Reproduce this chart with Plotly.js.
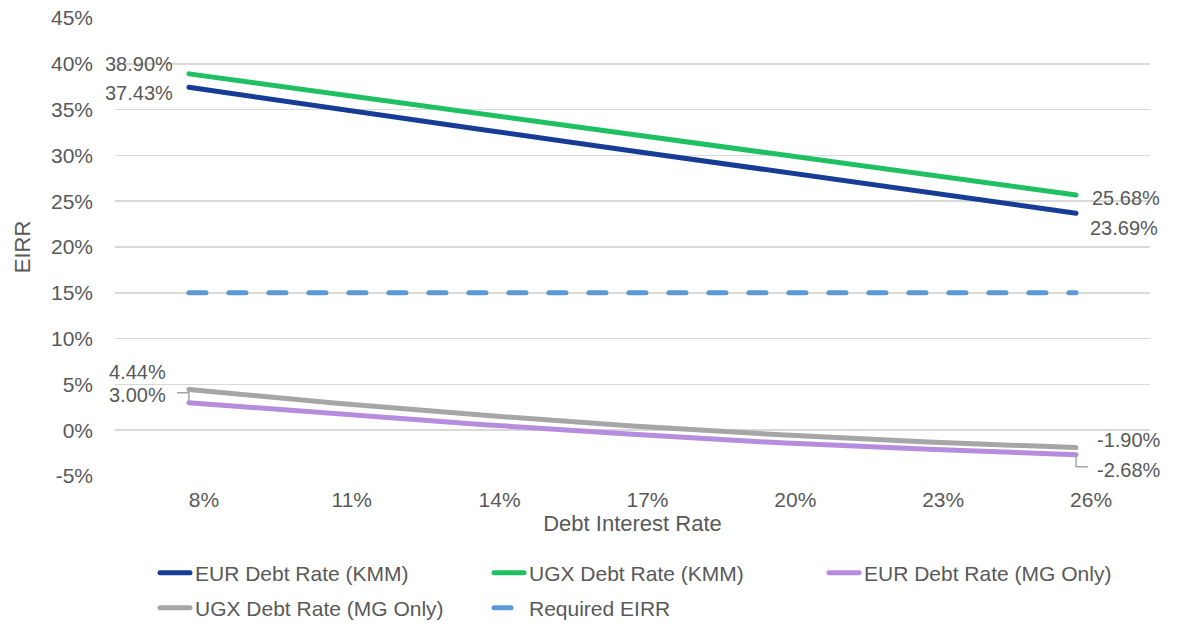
<!DOCTYPE html>
<html>
<head>
<meta charset="utf-8">
<script src="https://cdn.plot.ly/plotly-3.0.1.min.js"></script>
<style>
  html, body { margin: 0; padding: 0; background: #ffffff; }
  #chart { width: 1179px; height: 626px; }
  /* rounded line ends, as on the series and legend swatches */
  #chart path.js-line { stroke-linecap: round; }
</style>
</head>
<body>
<div id="chart"></div>
<script>
// Debt interest rate scenarios (%)
const debtRates = [8, 11, 14, 17, 20, 23, 26];
const debtRateLabels = ['8%', '11%', '14%', '17%', '20%', '23%', '26%'];

// Equity IRR (%) per scenario
const eurDebtKmm = [37.43, 35.07, 32.78, 30.49, 28.22, 25.95, 23.69];
const ugxDebtKmm = [38.90, 36.68, 34.47, 32.26, 30.06, 27.86, 25.68];
const eurDebtMgOnly = [3.00, 1.75, 0.60, -0.45, -1.38, -2.08, -2.68];
const ugxDebtMgOnly = [4.44, 2.94, 1.62, 0.47, -0.50, -1.29, -1.90];
const requiredEirr = [15, 15, 15, 15, 15, 15, 15];

// Y axis ticks
const eirrTicks = [-5, 0, 5, 10, 15, 20, 25, 30, 35, 40, 45];
const eirrTickLabels = ['-5%', '0%', '5%', '10%', '15%', '20%', '25%', '30%', '35%', '40%', '45%'];

const TEXT = '#595959';
const FONT = 'Liberation Sans, Arial, sans-serif';

const colors = {
  eurKmm: '#173C96',
  ugxKmm: '#1EC061',
  eurMg: '#B68CDE',
  ugxMg: '#A6A6A6',
  req: '#5B9BD5'
};

function lineTrace(name, y, color, legend, dash) {
  return {
    type: 'scatter', mode: 'lines', name: name,
    x: debtRates, y: y, legend: legend,
    line: { color: color, width: 5, dash: dash || 'solid' },
    hoverinfo: 'skip'
  };
}

const traces = [
  lineTrace('EUR Debt Rate (KMM)', eurDebtKmm, colors.eurKmm, 'legend'),
  lineTrace('UGX Debt Rate (KMM)', ugxDebtKmm, colors.ugxKmm, 'legend2'),
  lineTrace('EUR Debt Rate (MG Only)', eurDebtMgOnly, colors.eurMg, 'legend3'),
  lineTrace('UGX Debt Rate (MG Only)', ugxDebtMgOnly, colors.ugxMg, 'legend4'),
  lineTrace('Required EIRR', requiredEirr, colors.req, 'legend5', '17px,23px')
];

const first = 0, last = debtRates.length - 1;
const fmt = v => v.toFixed(2) + '%';

// End-point value labels: [series, index, xanchor, xshift, yshift]
const labelSpecs = [
  [ugxDebtKmm, first, 'right', -14, 10],
  [eurDebtKmm, first, 'right', -14, -6],
  [ugxDebtMgOnly, first, 'right', -21, 18],
  [eurDebtMgOnly, first, 'right', -21, 8],
  [ugxDebtKmm, last, 'left', 14, -3],
  [eurDebtKmm, last, 'left', 12, -15],
  [ugxDebtMgOnly, last, 'left', 19, 8],
  [eurDebtMgOnly, last, 'left', 19, -15]
];

const annotations = labelSpecs.map(([series, i, anchor, dx, dy]) => ({
  x: debtRates[i], y: series[i], xref: 'x', yref: 'y',
  text: fmt(series[i]), showarrow: false,
  xanchor: anchor, yanchor: 'middle', xshift: dx, yshift: dy,
  font: { family: FONT, size: 20, color: TEXT }
}));

// Leader lines tying the EUR (MG Only) labels to their line ends
const shapes = [
  { type: 'path', xref: 'x', yref: 'y', xsizemode: 'pixel', ysizemode: 'pixel',
    xanchor: debtRates[first], yanchor: eurDebtMgOnly[first],
    path: 'M0,0V10H-12', line: { color: '#a6a6a6', width: 1.5 } },
  { type: 'path', xref: 'x', yref: 'y', xsizemode: 'pixel', ysizemode: 'pixel',
    xanchor: debtRates[last], yanchor: eurDebtMgOnly[last],
    path: 'M0,0V-12H12', line: { color: '#a6a6a6', width: 1.5 } }
];

// One single-entry legend per slot, laid out as two rows under the plot
const W = 1179, H = 626;
function legendAt(px, py) {
  return {
    orientation: 'h', xref: 'container', yref: 'container',
    x: px / W, y: 1 - py / H, xanchor: 'left', yanchor: 'middle',
    font: { family: FONT, size: 21, color: TEXT },
    bgcolor: 'rgba(0,0,0,0)'
  };
}

const layout = {
  width: W, height: H,
  margin: { l: 115, r: 29, t: 18, b: 150 },
  paper_bgcolor: '#ffffff', plot_bgcolor: '#ffffff',
  font: { family: FONT, size: 21, color: TEXT },
  showlegend: true,
  xaxis: {
    range: [6.5, 27.5],
    tickmode: 'array', tickvals: debtRates, ticktext: debtRateLabels,
    showgrid: false, zeroline: false, showline: false, ticks: '',
    ticklabelshift: 15, ticklabelstandoff: 9,
    tickfont: { family: FONT, size: 21, color: TEXT },
    title: { text: 'Debt Interest Rate', font: { family: FONT, size: 22, color: TEXT }, standoff: 0 }
  },
  yaxis: {
    range: [-5, 45],
    tickmode: 'array', tickvals: eirrTicks, ticktext: eirrTickLabels,
    showgrid: true, gridcolor: '#d9d9d9', gridwidth: 1.5,
    zeroline: false, showline: false, ticks: '',
    ticklabelstandoff: 21,
    tickfont: { family: FONT, size: 21, color: TEXT },
    title: { text: 'EIRR', font: { family: FONT, size: 22, color: TEXT }, standoff: 14 }
  },
  legend: legendAt(155, 573),
  legend2: legendAt(489, 573),
  legend3: legendAt(824, 573),
  legend4: legendAt(155, 608),
  legend5: legendAt(489, 608),
  annotations: annotations,
  shapes: shapes
};

Plotly.newPlot('chart', traces, layout, { displayModeBar: false, staticPlot: true });
</script>
</body>
</html>
